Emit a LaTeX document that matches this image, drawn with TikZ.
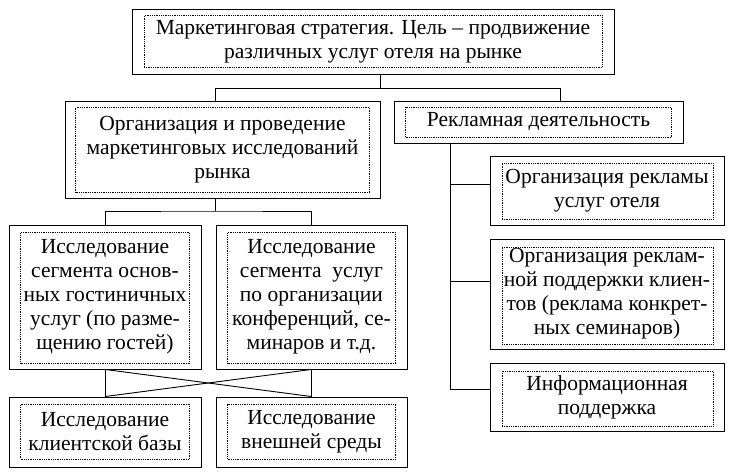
\documentclass[tikz,border=0pt]{standalone}
\usepackage{fontspec}
\setmainfont{Liberation Serif}
\newfontfamily\boxfont{Liberation Serif}
\usepackage{tikz}

\begin{document}
\begin{tikzpicture}[x=1pt, y=-1pt, line width=0.9pt,
    box/.style={draw, inner sep=0pt, align=center, font=\boxfont\fontsize{21.5}{24}\selectfont},
    dotbox/.style={draw, line width=0.6pt, dash pattern=on 0.6pt off 1.2pt, inner sep=0pt}]
        \useasboundingbox (0,0) rectangle (729,473);
        % top level
        \node[dotbox, minimum width=458pt, minimum height=52pt] (strat-in) at (373,41.5) {};
        \node[box, minimum width=482pt, minimum height=65pt] (strat) at (373,41.5) {Маркетинговая стратегия. Цель – продвижение\\различных услуг отеля на рынке};
        % second level
        \node[dotbox, minimum width=294pt, minimum height=85pt] (research-in) at (222.5,150) {};
        \node[box, minimum width=315pt, minimum height=97pt] (research) at (222.5,149.5) {Организация и проведение\\маркетинговых исследований\\рынка};
        \node[dotbox, minimum width=266pt, minimum height=30pt] (advert-in) at (538.5,122.5) {};
        \node[box, minimum width=289pt, minimum height=42pt] (advert) at (538.5,122) {Рекламная деятельность};
        % research branch
        \node[dotbox, minimum width=169pt, minimum height=131pt] (seg1-in) at (105,298) {};
        \node[box, minimum width=192pt, minimum height=144pt] (seg1) at (105,297) {Исследование\\сегмента основ-\\ных гостиничных\\услуг (по разме-\\щению гостей)};
        \node[dotbox, minimum width=168pt, minimum height=131pt] (seg2-in) at (311.5,298) {};
        \node[box, minimum width=191pt, minimum height=144pt] (seg2) at (311.5,297) {Исследование\\сегмента\ \ услуг\\по организации\\конференций, се-\\минаров и т.д.};
        \node[dotbox, minimum width=169pt, minimum height=55pt] (clients-in) at (105,431.5) {};
        \node[box, minimum width=192pt, minimum height=70pt] (clients) at (105,432) {Исследование\\клиентской базы};
        \node[dotbox, minimum width=168pt, minimum height=55pt] (env-in) at (311.5,431.5) {};
        \node[box, minimum width=191pt, minimum height=70pt] (env) at (311.5,432) {Исследование\\внешней среды};
        % advert branch
        \node[dotbox, minimum width=211pt, minimum height=56pt] (ad1-in) at (607.5,191) {};
        \node[box, minimum width=234pt, minimum height=69pt] (ad1) at (607,190.5) {Организация рекламы\\услуг отеля};
        \node[dotbox, minimum width=211pt, minimum height=97pt] (ad2-in) at (607.5,295.5) {};
        \node[box, minimum width=234pt, minimum height=110pt] (ad2) at (607,294) {Организация реклам-\\ной поддержки клиен-\\тов (реклама конкрет-\\ных семинаров)};
        \node[dotbox, minimum width=211pt, minimum height=55pt] (ad3-in) at (607.5,398.5) {};
        \node[box, minimum width=234pt, minimum height=68pt] (ad3) at (607,397) {Информационная\\поддержка};
        % connectors
        \coordinate (top-m) at (380,88);
        \coordinate (top-l) at (215,88);
        \coordinate (top-r) at (560,88);
        \draw (top-m |- strat.south) -- (top-m);
        \draw (top-l |- research.north) -- (top-l) -- (top-r) -- (top-r |- advert.north);
        \coordinate (mid-l) at (215,211);
        \draw (mid-l |- research.south) -- (mid-l);
        \draw (seg1.north) |- (mid-l) -| (seg2.north);
        \draw (seg1.south) -- (clients.north);
        \draw (seg2.south) -- (env.north);
        \draw (seg1.south) -- (env.north);
        \draw (seg2.south) -- (clients.north);
        \coordinate (rail-1) at (450,184);
        \coordinate (rail-2) at (450,281);
        \coordinate (rail-3) at (450,389);
        \draw (rail-1 |- advert.south) -- (rail-3) -- (rail-3 -| ad3.west);
        \draw (rail-1) -- (rail-1 -| ad1.west);
        \draw (rail-2) -- (rail-2 -| ad2.west);
\end{tikzpicture}
\end{document}
